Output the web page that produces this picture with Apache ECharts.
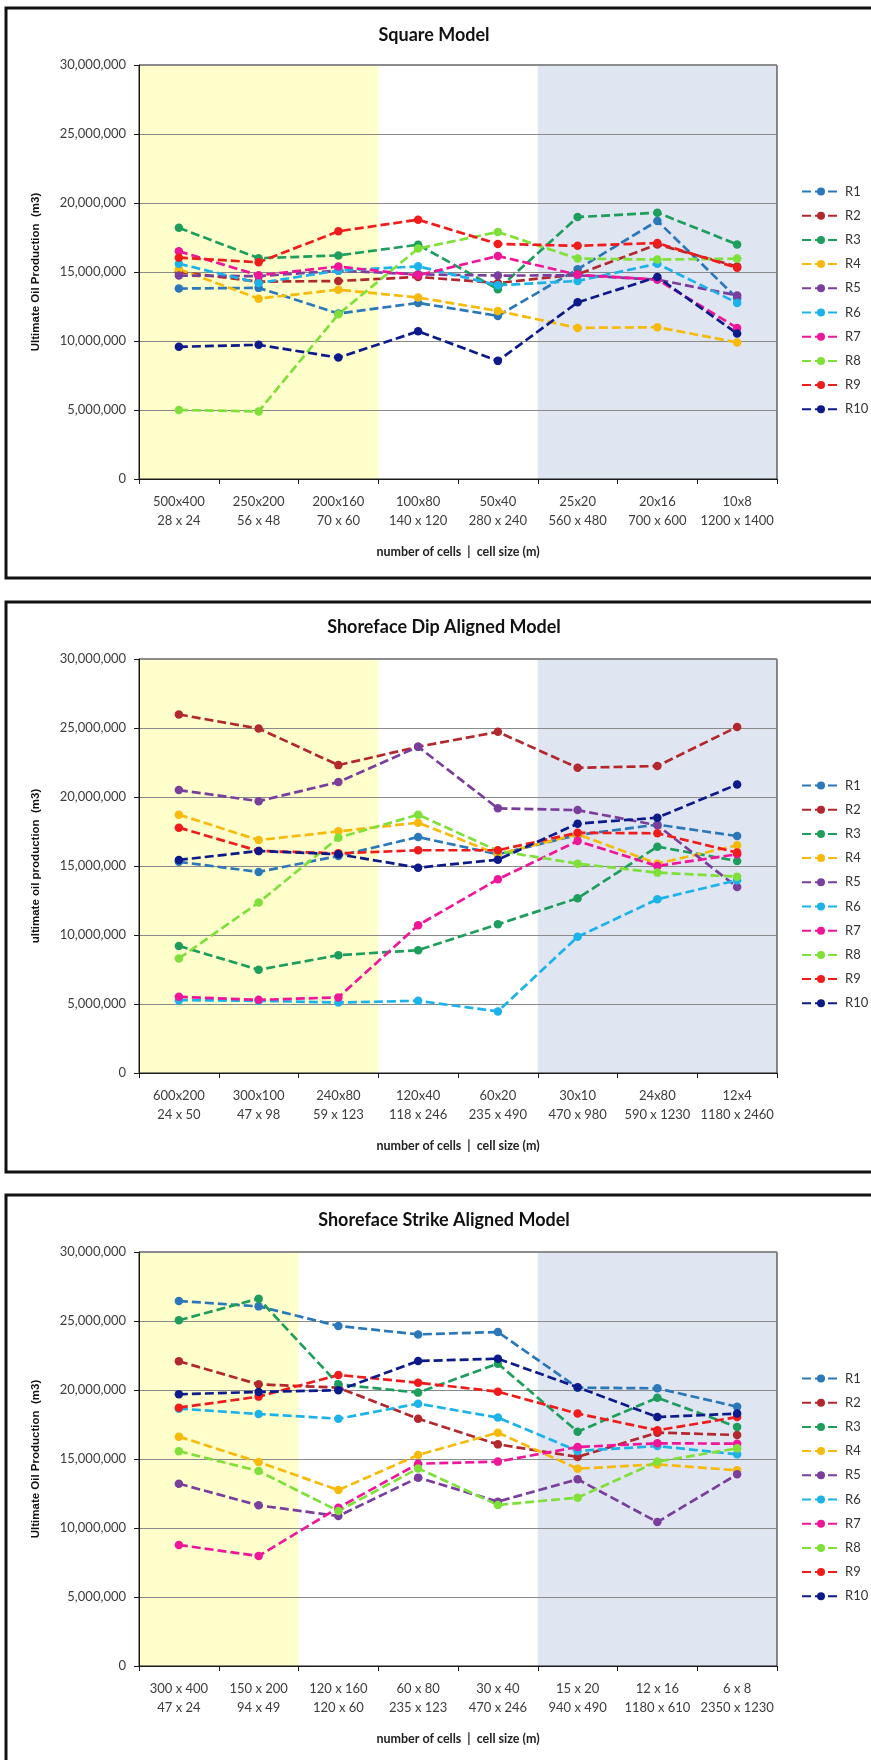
<!DOCTYPE html>
<html>
<head>
<meta charset="utf-8">
<script src="https://cdn.jsdelivr.net/npm/echarts@6/dist/echarts.min.js"></script>
<style>
  html, body { margin: 0; padding: 0; background: #ffffff; }
  #chart { width: 871px; height: 1760px; }
</style>
</head>
<body>
<div id="chart"></div>
<script>
// Realisation names (one line per realisation in every panel)
const seriesNames = ['R1', 'R2', 'R3', 'R4', 'R5', 'R6', 'R7', 'R8', 'R9', 'R10'];

// Square model: grid dimensions and cell sizes
const squareCells = ['500x400', '250x200', '200x160', '100x80', '50x40', '25x20', '20x16', '10x8'];
const squareSizes = ['28 x 24', '56 x 48', '70 x 60', '140 x 120', '280 x 240', '560 x 480', '700 x 600', '1200 x 1400'];
// ultimate oil production (m3), one row per realisation R1..R10
const squareValues = [
  [13.8e6, 13.85e6, 11.99e6, 12.76e6, 11.82e6, 15.2e6, 18.7e6, 13.1e6],
  [15.0e6, 14.3e6, 14.35e6, 14.64e6, 14.2e6, 14.83e6, 17.0e6, 15.4e6],
  [18.2e6, 16.0e6, 16.2e6, 16.98e6, 13.75e6, 18.98e6, 19.3e6, 17.0e6],
  [15.2e6, 13.07e6, 13.72e6, 13.15e6, 12.18e6, 10.95e6, 11.0e6, 9.9e6],
  [14.74e6, 14.7e6, 15.1e6, 14.83e6, 14.74e6, 14.76e6, 14.45e6, 13.3e6],
  [15.6e6, 14.2e6, 15.1e6, 15.41e6, 14.04e6, 14.35e6, 15.6e6, 12.76e6],
  [16.5e6, 14.76e6, 15.4e6, 14.76e6, 16.16e6, 14.8e6, 14.45e6, 10.95e6],
  [5.0e6, 4.9e6, 11.94e6, 16.7e6, 17.9e6, 15.97e6, 15.9e6, 15.97e6],
  [16.04e6, 15.7e6, 17.95e6, 18.79e6, 17.03e6, 16.9e6, 17.1e6, 15.3e6],
  [9.58e6, 9.72e6, 8.8e6, 10.7e6, 8.56e6, 12.8e6, 14.64e6, 10.54e6]
];

// Shoreface dip aligned model
const dipCells = ['600x200', '300x100', '240x80', '120x40', '60x20', '30x10', '24x80', '12x4'];
const dipSizes = ['24 x 50', '47 x 98', '59 x 123', '118 x 246', '235 x 490', '470 x 980', '590 x 1230', '1180 x 2460'];
const dipValues = [
  [15.3e6, 14.57e6, 15.73e6, 17.1e6, 15.85e6, 17.25e6, 18.0e6, 17.17e6],
  [25.98e6, 24.96e6, 22.31e6, 23.64e6, 24.72e6, 22.12e6, 22.24e6, 25.08e6],
  [9.21e6, 7.48e6, 8.54e6, 8.9e6, 10.78e6, 12.66e6, 16.4e6, 15.36e6],
  [18.72e6, 16.88e6, 17.51e6, 18.14e6, 15.85e6, 17.3e6, 15.17e6, 16.5e6],
  [20.5e6, 19.7e6, 21.08e6, 23.64e6, 19.18e6, 19.05e6, 17.95e6, 13.48e6],
  [5.28e6, 5.23e6, 5.11e6, 5.23e6, 4.46e6, 9.87e6, 12.59e6, 13.97e6],
  [5.52e6, 5.3e6, 5.48e6, 10.71e6, 14.04e6, 16.81e6, 15.0e6, 15.85e6],
  [8.3e6, 12.35e6, 17.05e6, 18.72e6, 16.1e6, 15.17e6, 14.52e6, 14.23e6],
  [17.78e6, 16.09e6, 15.92e6, 16.14e6, 16.14e6, 17.41e6, 17.37e6, 15.97e6],
  [15.44e6, 16.09e6, 15.85e6, 14.88e6, 15.46e6, 18.07e6, 18.5e6, 20.91e6]
];

// Shoreface strike aligned model
const strikeCells = ['300 x 400', '150 x 200', '120 x 160', '60 x 80', '30 x 40', '15 x 20', '12 x 16', '6 x 8'];
const strikeSizes = ['47 x 24', '94 x 49', '120 x 60', '235 x 123', '470 x 246', '940 x 490', '1180 x 610', '2350 x 1230'];
const strikeValues = [
  [26.45e6, 26.06e6, 24.64e6, 24.03e6, 24.2e6, 20.17e6, 20.12e6, 18.79e6],
  [22.08e6, 20.41e6, 20.17e6, 17.92e6, 16.06e6, 15.15e6, 16.91e6, 16.74e6],
  [25.05e6, 26.62e6, 20.41e6, 19.81e6, 21.91e6, 16.98e6, 19.44e6, 17.32e6],
  [16.62e6, 14.78e6, 12.75e6, 15.29e6, 16.91e6, 14.3e6, 14.61e6, 14.18e6],
  [13.21e6, 11.64e6, 10.87e6, 13.65e6, 11.91e6, 13.53e6, 10.43e6, 13.89e6],
  [18.65e6, 18.26e6, 17.92e6, 19.01e6, 18.0e6, 15.58e6, 15.94e6, 15.34e6],
  [8.77e6, 7.97e6, 11.47e6, 14.66e6, 14.81e6, 15.87e6, 16.14e6, 16.11e6],
  [15.56e6, 14.13e6, 11.23e6, 14.32e6, 11.67e6, 12.2e6, 14.81e6, 15.77e6],
  [18.72e6, 19.52e6, 21.09e6, 20.53e6, 19.88e6, 18.29e6, 17.08e6, 18.04e6],
  [19.69e6, 19.86e6, 19.98e6, 22.1e6, 22.27e6, 20.2e6, 18.04e6, 18.29e6]
];

// Shaded category ranges (category boundaries): coarse grids in yellow, fine grids in blue
const coarseBandEnd = [3, 3, 2];
const fineBandStart = [5, 5, 5];

// Axis range
const yMax = 30000000;
const yStep = 5000000;

const titles = ['Square Model', 'Shoreface Dip Aligned Model', 'Shoreface Strike Aligned Model'];
const yTitles = ['Ultimate Oil Production  (m3)', 'ultimate oil production  (m3)', 'Ultimate Oil Production  (m3)'];
const xTitle = 'number of cells  |  cell size (m)';

const panels = [
  { cells: squareCells, sizes: squareSizes, values: squareValues },
  { cells: dipCells, sizes: dipSizes, values: dipValues },
  { cells: strikeCells, sizes: strikeSizes, values: strikeValues }
];

// ---- styling ----
const palette = ['#2A78B9', '#B3282D', '#1E9E5C', '#F7BA0B', '#7A3E9D',
                 '#1BB3EA', '#F0169A', '#7FE03A', '#F01C1C', '#0C1A8A'];
const font = 'Lato, "Open Sans", sans-serif';
const panelOffsets = [0, 594, 1187];
const frameTop = 8, gridTop = 65, gridLeft = 139, gridWidth = 638, gridHeight = 414;

function withCommas(v) {
  return String(v).replace(/\B(?=(\d{3})+(?!\d))/g, ',');
}

const grid = [], xAxis = [], yAxis = [], series = [], legend = [], graphic = [];

panels.forEach((p, i) => {
  const off = panelOffsets[i];
  const top = gridTop + off;

  grid.push({
    left: gridLeft, top: top, width: gridWidth, height: gridHeight,
    show: true, borderColor: '#1a1a1a', borderWidth: 1,
    backgroundColor: 'transparent', z: 4
  });

  xAxis.push({
    gridIndex: i, type: 'category', boundaryGap: true,
    data: p.cells.map((c, j) => c + '\n' + p.sizes[j]),
    axisLine: { lineStyle: { color: '#1a1a1a', width: 1 } },
    axisTick: { show: true, length: 5, alignWithLabel: false, lineStyle: { color: '#1a1a1a' } },
    axisLabel: { interval: 0, margin: 14, fontSize: 13, lineHeight: 18.5, color: '#3c3c3c', fontFamily: font },
    z: 5
  });
  // hidden linear axis used to place the shaded ranges on category boundaries
  xAxis.push({ gridIndex: i, type: 'value', min: 0, max: 8, show: false });

  yAxis.push({
    gridIndex: i, type: 'value', min: 0, max: yMax, interval: yStep,
    axisLine: { show: true, lineStyle: { color: '#1a1a1a', width: 1 } },
    axisTick: { show: true, length: 5, lineStyle: { color: '#1a1a1a' } },
    splitLine: { show: true, lineStyle: { color: '#8a8a8a', width: 1 } },
    axisLabel: { margin: 13, fontSize: 13, color: '#3c3c3c', fontFamily: font, formatter: withCommas },
    z: 5
  });

  series.push({
    type: 'line', name: 'bands' + i, xAxisIndex: 2 * i + 1, yAxisIndex: i,
    data: [], silent: true, z: 1,
    markArea: {
      silent: true,
      data: [
        [{ xAxis: 0, itemStyle: { color: '#FFFFCC' } }, { xAxis: coarseBandEnd[i] }],
        [{ xAxis: fineBandStart[i], itemStyle: { color: '#DFE5F1' } }, { xAxis: 8 }]
      ]
    }
  });

  p.values.forEach((vals, r) => {
    series.push({
      type: 'line', name: seriesNames[r], xAxisIndex: 2 * i, yAxisIndex: i,
      data: vals, symbol: 'circle', symbolSize: 8.5,
      lineStyle: { color: palette[r], width: 2.7, type: [9, 4] },
      itemStyle: { color: palette[r] },
      z: 6
    });
  });

  legend.push({
    data: seriesNames, orient: 'vertical', left: 796, top: 180 + off,
    itemWidth: 38, itemHeight: 10, itemGap: 11.2, selectedMode: false,
    textStyle: { fontSize: 13, color: '#333', fontFamily: font }
  });

  // panel frame
  graphic.push({
    type: 'rect', silent: true, z: 0,
    shape: { x: 6, y: frameTop + off, width: 900, height: 570 },
    style: { fill: 'none', stroke: '#111', lineWidth: 3 }
  });
  // panel title
  graphic.push({
    type: 'text', silent: true, x: i === 0 ? 434 : 444, y: 35 + off - (i === 0 ? 0 : 2),
    style: { text: titles[i], fontSize: 18, fontWeight: 'bold', fontFamily: font, fill: '#111',
             textAlign: 'center', textVerticalAlign: 'middle' }
  });
  // y-axis title
  graphic.push({
    type: 'text', silent: true, x: 36, y: top + gridHeight / 2, rotation: Math.PI / 2,
    style: { text: yTitles[i], fontSize: 11.5, fontWeight: 'bold', fontFamily: 'Liberation Sans, Arial, sans-serif',
             fill: '#111', textAlign: 'center', textVerticalAlign: 'middle' }
  });
  // x-axis title
  graphic.push({
    type: 'text', silent: true, x: gridLeft + gridWidth / 2, y: top + gridHeight + 73,
    style: { text: xTitle, fontSize: 12.5, fontWeight: 'bold', fontFamily: font, fill: '#222',
             textAlign: 'center', textVerticalAlign: 'middle' }
  });
});

const chart = echarts.init(document.getElementById('chart'), null, { renderer: 'canvas' });
chart.setOption({
  backgroundColor: '#ffffff',
  animation: false,
  grid, xAxis, yAxis, series, legend, graphic
});
</script>
</body>
</html>
